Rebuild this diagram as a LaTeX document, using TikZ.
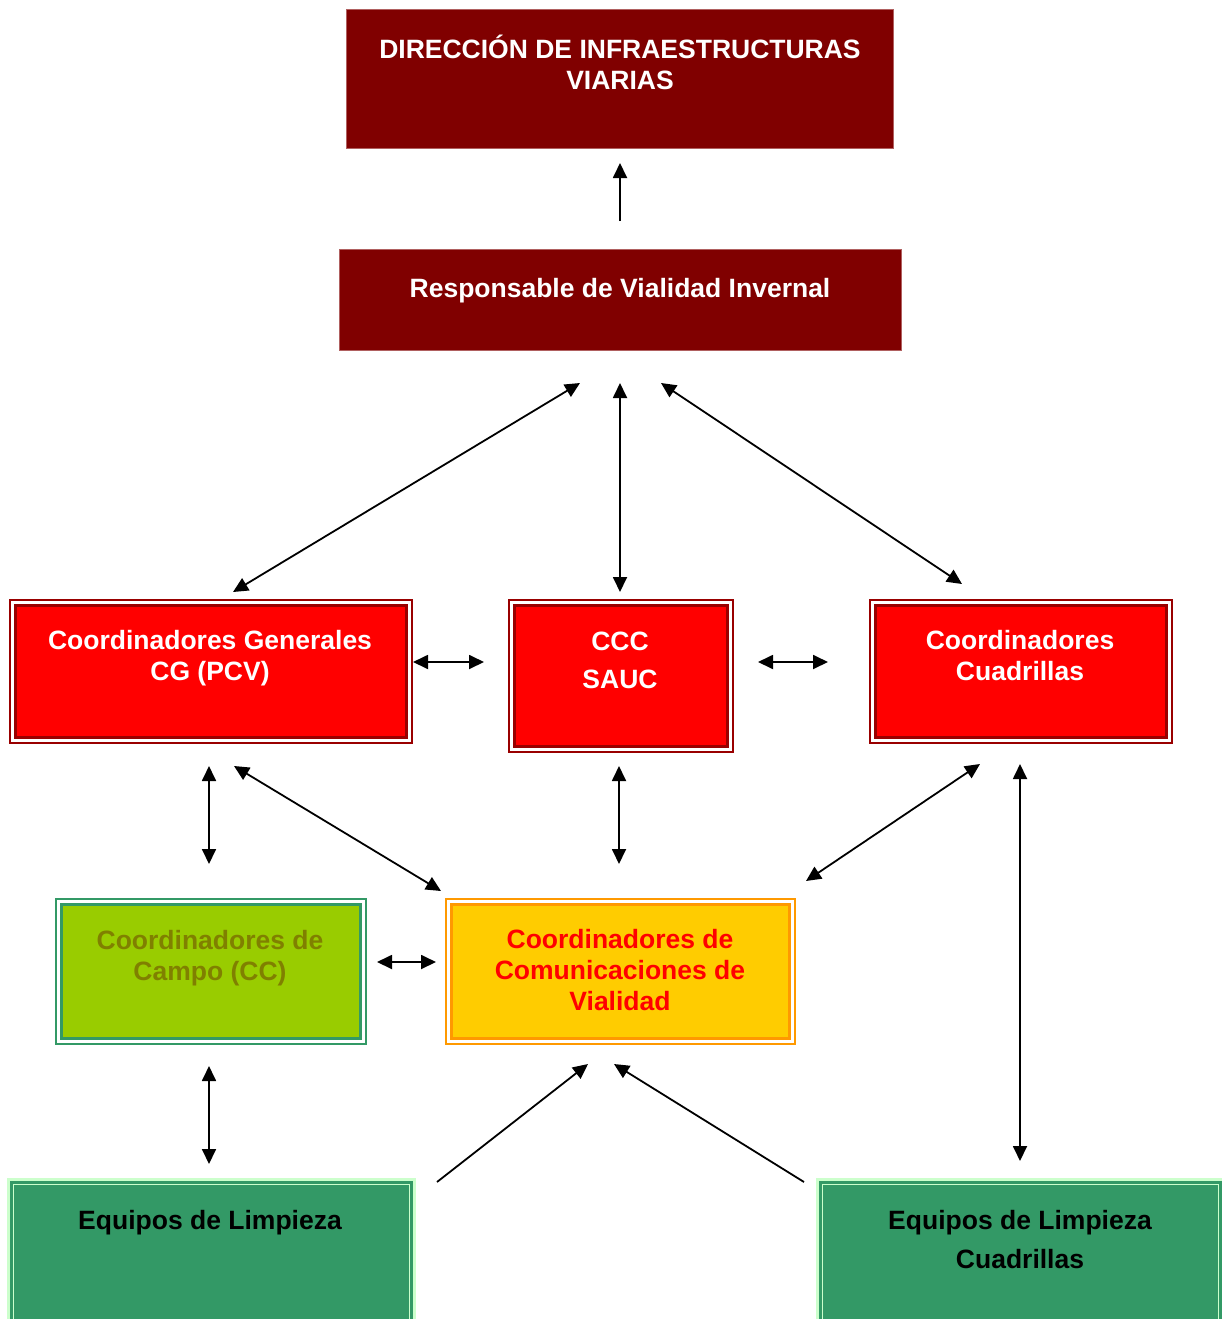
\documentclass[tikz,border=0pt]{standalone}
\usepackage{fontspec}
\setmainfont{Liberation Sans}
\usetikzlibrary{arrows.meta}
\definecolor{maroonfill}{HTML}{800000}
\definecolor{maroonline}{HTML}{B06060}
\definecolor{redfill}{HTML}{FF0000}
\definecolor{redline}{HTML}{990000}
\definecolor{limefill}{HTML}{99CC00}
\definecolor{limeline}{HTML}{339966}
\definecolor{olivetext}{HTML}{808000}
\definecolor{goldfill}{HTML}{FFCC00}
\definecolor{goldline}{HTML}{FF9900}
\definecolor{seafill}{HTML}{339966}
\definecolor{mintline}{HTML}{CCFFCC}
\begin{document}
\begin{tikzpicture}[x=1pt,y=-1pt,
  plainbox/.style={draw=maroonline, line width=1pt, fill=maroonfill, inner sep=0pt, anchor=north west},
  tribox/.style n args={4}{draw=#1, line width=#3, fill=white, inner sep=0pt, anchor=north west,
    path picture={\draw[draw=#1, fill=#2, line width=#4]
      ([shift={(5.5pt,-5.5pt)}]path picture bounding box.north west) rectangle
      ([shift={(-5.5pt,5.5pt)}]path picture bounding box.south east);}},
  eqbox/.style={draw=mintline, line width=3pt, fill=seafill, inner sep=0pt, anchor=north west,
    path picture={\draw[draw=mintline, line width=1.2pt]
      ([shift={(5pt,-5pt)}]path picture bounding box.north west) rectangle
      ([shift={(-5pt,5pt)}]path picture bounding box.south east);}},
  txt/.style={anchor=base, align=center, inner sep=0pt, font=\fontsize{26.5}{31}\selectfont\bfseries},
  tip/.tip={Triangle[length=15pt,width=14pt]},
  both/.style={tip-tip, line width=1.8pt},
  single/.style={-tip, line width=1.8pt}
]
\useasboundingbox (0,0) rectangle (1221,1319);

% boxes
\node[plainbox, minimum width=547pt, minimum height=139pt] (dir) at (346,9) {};
\node[plainbox, minimum width=562pt, minimum height=101pt] (resp) at (339,249) {};
\node[tribox={redline}{redfill}{1.5pt}{3pt}, minimum width=402pt, minimum height=143pt] (cg) at (9,599) {};
\node[tribox={redline}{redfill}{1.5pt}{3pt}, minimum width=224pt, minimum height=152pt] (ccc) at (508,599) {};
\node[tribox={redline}{redfill}{1.5pt}{3pt}, minimum width=302pt, minimum height=143pt] (cq) at (869,599) {};
\node[tribox={limeline}{limefill}{2pt}{3pt}, minimum width=310pt, minimum height=145pt] (campo) at (55,898) {};
\node[tribox={goldline}{goldfill}{2pt}{2.5pt}, minimum width=349pt, minimum height=145pt] (com) at (445,898) {};
\node[eqbox, minimum width=406pt, minimum height=170pt] (eql) at (7,1178) {};
\node[eqbox, minimum width=406pt, minimum height=170pt] (eqr) at (816,1178) {};

% texts (anchored at the baseline of the last line)
\node[txt, text=white] (tdir) at (620,90) {DIRECCIÓN DE INFRAESTRUCTURAS\\VIARIAS};
\node[txt, text=white] (tresp) at (620,297) {Responsable de Vialidad Invernal};
\node[txt, text=white] (tcg) at (210,680) {Coordinadores Generales\\CG (PCV)};
\node[txt, text=white] (tccc) at (620,688) {CCC\\[7pt]SAUC};
\node[txt, text=white] (tcq) at (1020,680) {Coordinadores\\Cuadrillas};
\node[txt, text=olivetext] (tcampo) at (210,980) {Coordinadores de\\Campo (CC)};
\node[txt, text=redfill] (tcom) at (620,1010) {Coordinadores de\\Comunicaciones de\\Vialidad};
\node[txt, text=black] (teql) at (210,1229) {Equipos de Limpieza};
\node[txt, text=black] (teqr) at (1020,1268) {Equipos de Limpieza\\[8pt]Cuadrillas};

% connector ends
\coordinate (r0) at (620,221); \coordinate (d0) at (620,163);
\coordinate (r1) at (580,383); \coordinate (g1) at (233,592);
\coordinate (r2) at (620,383); \coordinate (c2) at (620,592);
\coordinate (r3) at (661,383); \coordinate (q3) at (962,584);
\coordinate (g4) at (413,662); \coordinate (c4) at (484,662);
\coordinate (c5) at (758,662); \coordinate (q5) at (828,662);
\coordinate (g6) at (209,766); \coordinate (k6) at (209,864);
\coordinate (g7) at (234,766); \coordinate (m7) at (441,891);
\coordinate (c8) at (619,766); \coordinate (m8) at (619,864);
\coordinate (q9) at (980,764); \coordinate (m9) at (806,881);
\coordinate (q10) at (1020,764); \coordinate (e10) at (1020,1161);
\coordinate (k11) at (377,962); \coordinate (m11) at (436,962);
\coordinate (k12) at (209,1066); \coordinate (e12) at (209,1164);
\coordinate (e13) at (437,1182); \coordinate (m13) at (588,1064);
\coordinate (f14) at (804,1182); \coordinate (m14) at (614,1064);

% connectors
\draw[single] (r0) -- (d0);
\draw[both] (r1) -- (g1);
\draw[both] (r2) -- (c2);
\draw[both] (r3) -- (q3);
\draw[both] (g4) -- (c4);
\draw[both] (c5) -- (q5);
\draw[both] (g6) -- (k6);
\draw[both] (g7) -- (m7);
\draw[both] (c8) -- (m8);
\draw[both] (q9) -- (m9);
\draw[both] (q10) -- (e10);
\draw[both] (k11) -- (m11);
\draw[both] (k12) -- (e12);
\draw[single] (e13) -- (m13);
\draw[single] (f14) -- (m14);
\end{tikzpicture}
\end{document}
